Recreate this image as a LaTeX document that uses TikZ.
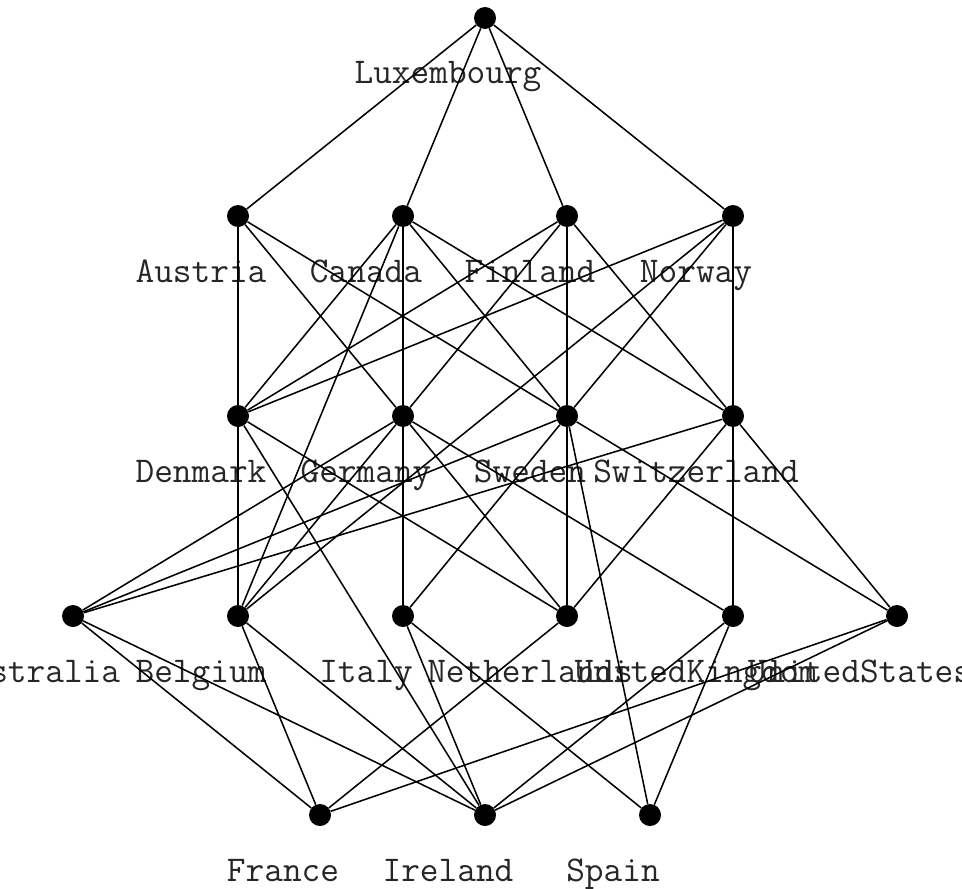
\documentclass[tikz,border=0pt]{standalone}
\usepackage{fontspec}
\begin{document}
\begin{tikzpicture}[x=0.75pt,y=-0.75pt,
  dot/.style={circle,fill=black,inner sep=0pt,minimum size=16.5pt},
  lbl/.style={anchor=base,inner sep=0pt,text=black!85,font=\ttfamily\fontsize{27.2}{30}\selectfont},
  edge/.style={line width=1.15pt}]
\useasboundingbox (0,0) rectangle (962,888);
\foreach \n/\x/\y/\t in {
  lux/485/18/Luxembourg,
  aut/238/216/Austria, can/403/216/Canada, fin/567/216/Finland, nor/733/216/Norway,
  den/238/416/Denmark, ger/403/416/Germany, swe/567/416/Sweden, swi/733/416/Switzerland,
  aus/73/616/Australia, bel/238/616/Belgium, ita/403/616/Italy, net/567/616/Netherlands,
  uk/733/616/UnitedKingdom, us/897/616/UnitedStates,
  fra/320/815/France, ire/485/815/Ireland, spa/650/815/Spain}{
  \node[dot] (\n) at (\x,\y) {};
  \node[lbl] (l\n) at (\x-37,\y+66) {\t};
}
\foreach \a/\b in {
  lux/aut, lux/can, lux/fin, lux/nor,
  aut/den, aut/ger, aut/swe,
  can/den, can/bel, can/ger, can/swe, can/swi,
  fin/den, fin/ger, fin/swe, fin/swi,
  nor/den, nor/bel, nor/swe, nor/swi,
  den/bel, den/net, den/ire,
  ger/aus, ger/bel, ger/ita, ger/net, ger/uk,
  swe/aus, swe/ita, swe/net, swe/us, swe/spa,
  swi/aus, swi/net, swi/uk, swi/us,
  aus/fra, aus/ire,
  bel/fra, bel/ire,
  ita/ire, ita/spa,
  net/fra,
  uk/ire, uk/spa,
  us/fra, us/ire}{
  \draw[edge] (\a) -- (\b);
}
\end{tikzpicture}
\end{document}
